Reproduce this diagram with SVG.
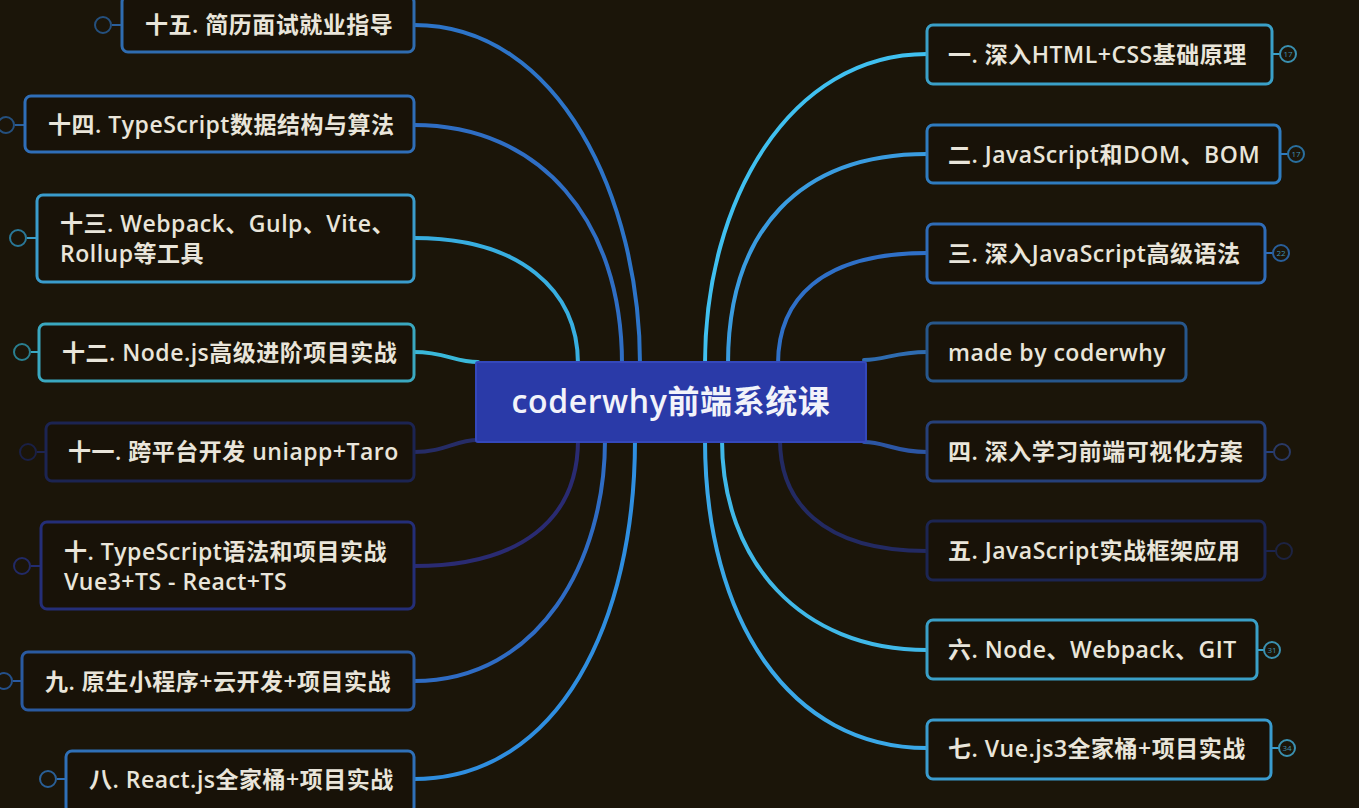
<svg xmlns="http://www.w3.org/2000/svg" width="1359" height="808" viewBox="0 0 1359 808">
<style>
.bg{fill:#1b1509}
.node rect{fill:#181208;stroke-width:3}
.node text{font-family:"Open Sans","Noto Sans CJK SC",sans-serif;font-weight:600;font-size:23px;letter-spacing:0.5px;fill:#e9e5da}
.node circle{fill:none;stroke-width:2}
.node line{stroke-width:2}
.node text.num{font-family:"Open Sans",sans-serif;font-weight:400;font-size:8px;letter-spacing:0;fill:#3f8fb0;text-anchor:middle}
#connectors path{fill:none;stroke-width:4;stroke-linecap:round}
#center rect{fill:#2a3aa8;stroke:#3448bb;stroke-width:2}
#center text{font-family:"Open Sans","Noto Sans CJK SC",sans-serif;font-weight:600;font-size:32px;letter-spacing:0.6px;fill:#f2f3fa;text-anchor:middle}
</style>
<rect class="bg" x="0" y="0" width="1359" height="808"/>

<g id="connectors">
<path d="M414,25 C560,25 640,200 640,364" stroke="#2d74c8"/>
<path d="M414,125 C540,125 622,220 622,364" stroke="#2f6ec4"/>
<path d="M414,238 C520,238 578,290 578,364" stroke="#38aee0"/>
<path d="M414,352 C445,352 455,362 478,362" stroke="#3ab8da"/>
<path d="M414,452 C445,452 455,440 478,440" stroke="#262c66"/>
<path d="M414,566 C520,566 578,520 578,440" stroke="#2a2b72"/>
<path d="M414,681 C540,681 605,560 605,440" stroke="#2f6cc4"/>
<path d="M414,779 C560,779 635,620 635,440" stroke="#2f8ee0"/>
<path d="M927,54 C790,54 705,200 705,364" stroke="#40c0f0"/>
<path d="M927,154 C800,154 728,230 728,364" stroke="#3a9ce0"/>
<path d="M927,253 C820,253 778,300 778,364" stroke="#2f70c8"/>
<path d="M927,352 C895,352 885,360 864,360" stroke="#2f6cb0"/>
<path d="M927,452 C895,452 885,442 864,442" stroke="#2c56a4"/>
<path d="M927,551 C820,551 780,500 780,440" stroke="#232a62"/>
<path d="M927,650 C800,650 722,560 722,440" stroke="#40b8e8"/>
<path d="M927,748 C790,748 705,620 705,440" stroke="#3aa8e8"/>
</g>

<g id="center">
<rect x="476" y="362" width="390" height="80" rx="2"/>
<text x="671" y="413">coderwhy前端系统课</text>
</g>

<g id="n15" class="node">
<line x1="112" y1="25" x2="122" y2="25" stroke="#2b5f9a"/>
<circle cx="103" cy="25" r="8" stroke="#25507e"/>
<rect x="122" y="-4" width="292" height="56" rx="6" stroke="#2f6cb0"/>
<text x="145" y="33">十五. 简历面试就业指导</text>
</g>
<g id="n14" class="node">
<line x1="15" y1="125" x2="25" y2="125" stroke="#2b5f9a"/>
<circle cx="6" cy="125" r="8" stroke="#25507e"/>
<rect x="25" y="96" width="389" height="56" rx="6" stroke="#2f6eb8"/>
<text x="48" y="133">十四. TypeScript数据结构与算法</text>
</g>
<g id="n13" class="node">
<line x1="27" y1="238" x2="37" y2="238" stroke="#3a9cc8"/>
<circle cx="18" cy="238" r="8" stroke="#2a7898"/>
<rect x="37" y="195" width="377" height="87" rx="6" stroke="#3a9ccc"/>
<text x="60" y="232">十三. Webpack、Gulp、Vite、</text>
<text x="60" y="262">Rollup等工具</text>
</g>
<g id="n12" class="node">
<line x1="31" y1="352" x2="39" y2="352" stroke="#3aa8c0"/>
<circle cx="22" cy="352" r="8" stroke="#2a7f90"/>
<rect x="39" y="324" width="375" height="57" rx="6" stroke="#3aa8c0"/>
<text x="62" y="361">十二. Node.js高级进阶项目实战</text>
</g>
<g id="n11" class="node">
<line x1="37" y1="452" x2="46" y2="452" stroke="#1e2550"/>
<circle cx="28" cy="452" r="8" stroke="#1a2045"/>
<rect x="46" y="423" width="368" height="58" rx="6" stroke="#1c2452"/>
<text x="68" y="460">十一. 跨平台开发 uniapp+Taro</text>
</g>
<g id="n10" class="node">
<line x1="31" y1="566" x2="41" y2="566" stroke="#222c70"/>
<circle cx="22" cy="566" r="8" stroke="#222a66"/>
<rect x="41" y="522" width="373" height="87" rx="6" stroke="#242e78"/>
<text x="64" y="560">十. TypeScript语法和项目实战</text>
<text x="64" y="590">Vue3+TS - React+TS</text>
</g>
<g id="n9" class="node">
<line x1="13" y1="681" x2="22" y2="681" stroke="#2a5aa0"/>
<circle cx="4" cy="681" r="8" stroke="#24508a"/>
<rect x="22" y="652" width="392" height="58" rx="6" stroke="#2a5aa0"/>
<text x="45" y="690">九. 原生小程序+云开发+项目实战</text>
</g>
<g id="n8" class="node">
<line x1="57" y1="779" x2="66" y2="779" stroke="#2f70b8"/>
<circle cx="48" cy="779" r="8" stroke="#2a5f96"/>
<rect x="66" y="751" width="348" height="62" rx="6" stroke="#2f70b8"/>
<text x="89" y="788">八. React.js全家桶+项目实战</text>
</g>

<g id="n1" class="node">
<line x1="1272" y1="54" x2="1280" y2="54" stroke="#3aa0c8"/>
<circle cx="1288" cy="54" r="8" stroke="#3a90b0"/>
<text class="num" x="1288" y="57">17</text>
<rect x="927" y="25" width="345" height="59" rx="6" stroke="#3aa0c8"/>
<text x="948" y="63">一. 深入HTML+CSS基础原理</text>
</g>
<g id="n2" class="node">
<line x1="1280" y1="154" x2="1288" y2="154" stroke="#2f7cc0"/>
<circle cx="1296" cy="154" r="8" stroke="#2a6f9e"/>
<text class="num" x="1296" y="157">17</text>
<rect x="927" y="125" width="353" height="58" rx="6" stroke="#2f7cc0"/>
<text x="948" y="163">二. JavaScript和DOM、BOM</text>
</g>
<g id="n3" class="node">
<line x1="1265" y1="253" x2="1273" y2="253" stroke="#2f6cb8"/>
<circle cx="1281" cy="253" r="8" stroke="#2a5f9a"/>
<text class="num" x="1281" y="256">22</text>
<rect x="927" y="224" width="338" height="59" rx="6" stroke="#2f6cb8"/>
<text x="948" y="262">三. 深入JavaScript高级语法</text>
</g>
<g id="nm" class="node">
<rect x="927" y="323" width="259" height="58" rx="6" stroke="#27578c"/>
<text x="948" y="361">made by coderwhy</text>
</g>
<g id="n4" class="node">
<line x1="1265" y1="452" x2="1274" y2="452" stroke="#26407a"/>
<circle cx="1282" cy="452" r="8" stroke="#2a3a66"/>
<rect x="927" y="422" width="338" height="59" rx="6" stroke="#26407a"/>
<text x="948" y="460">四. 深入学习前端可视化方案</text>
</g>
<g id="n5" class="node">
<line x1="1265" y1="551" x2="1276" y2="551" stroke="#1c2550"/>
<circle cx="1284" cy="551" r="8" stroke="#1d2342"/>
<rect x="927" y="521" width="338" height="59" rx="6" stroke="#1c2552"/>
<text x="948" y="559">五. JavaScript实战框架应用</text>
</g>
<g id="n6" class="node">
<line x1="1257" y1="650" x2="1264" y2="650" stroke="#3aa0c8"/>
<circle cx="1272" cy="650" r="8" stroke="#3a90b0"/>
<text class="num" x="1272" y="653">31</text>
<rect x="927" y="620" width="330" height="59" rx="6" stroke="#3aa0c8"/>
<text x="948" y="658">六. Node、Webpack、GIT</text>
</g>
<g id="n7" class="node">
<line x1="1271" y1="748" x2="1279" y2="748" stroke="#3a9ccf"/>
<circle cx="1287" cy="748" r="8" stroke="#3a90b0"/>
<text class="num" x="1287" y="751">34</text>
<rect x="927" y="720" width="344" height="59" rx="6" stroke="#3a9ccf"/>
<text x="948" y="757">七. Vue.js3全家桶+项目实战</text>
</g>
</svg>
